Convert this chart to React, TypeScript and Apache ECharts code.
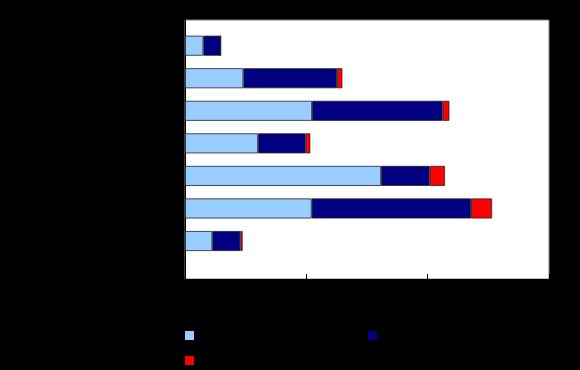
import React, { useEffect, useRef } from "react";
import * as echarts from "echarts";

const categories = ["Group 1", "Group 2", "Group 3", "Group 4", "Group 5", "Group 6", "Group 7"];
const seriesNames = ["Series 1", "Series 2", "Series 3"];
const lightValues = [1.51, 4.81, 10.47, 6.02, 16.16, 10.44, 2.25];
const darkValues = [1.43, 7.72, 10.77, 3.93, 4.01, 13.14, 2.31];
const redValues = [0, 0.44, 0.55, 0.38, 1.26, 1.73, 0.19];
const xTicks = [0, 10, 20, 30];

export default function App() {
  const ref = useRef<HTMLDivElement>(null);
  useEffect(() => {
    document.body.style.margin = "0";
    const chart = echarts.init(ref.current!, null, { renderer: "svg" });
    const font = "Liberation Sans";
    const barStyle = { borderColor: "#222", borderWidth: 0.8 };
    const legendBase = {
      itemWidth: 9, itemHeight: 9, icon: "rect", padding: 0,
      itemStyle: { borderWidth: 0 },
      textStyle: { color: "#000", fontFamily: font, fontSize: 11 },
    };
    chart.setOption({
      animation: false,
      backgroundColor: "#000",
      textStyle: { fontFamily: font, color: "#000" },
      grid: [
        { left: 185, top: 20, width: 364, height: 259, show: true, backgroundColor: "#fff", borderColor: "#808080", borderWidth: 1 },
        { left: 185, top: 29.4, width: 364, height: 227.9 },
      ],
      xAxis: [
        {
          gridIndex: 0, type: "value", min: xTicks[0], max: xTicks[xTicks.length - 1], interval: 10,
          axisLine: { show: true, lineStyle: { color: "#000", width: 1 } },
          axisTick: { show: true, inside: true, length: 5, lineStyle: { color: "#000" } },
          splitLine: { show: false },
          axisLabel: { color: "#000", fontSize: 11, fontFamily: font },
        },
        { gridIndex: 1, type: "value", min: 0, max: 30, show: false },
      ],
      yAxis: [
        { gridIndex: 0, type: "value", min: 0, max: 1, axisLine: { show: true, lineStyle: { color: "#000" } }, axisTick: { show: false }, axisLabel: { show: false }, splitLine: { show: false } },
        {
          gridIndex: 1, type: "category", data: categories, inverse: true,
          axisLine: { show: false }, axisTick: { show: false },
          axisLabel: { color: "#000", fontSize: 11, fontFamily: font },
        },
      ],
      legend: [
        { ...legendBase, data: [seriesNames[0]], left: 185, top: 330 },
        { ...legendBase, data: [seriesNames[1]], left: 368, top: 330 },
        { ...legendBase, data: [seriesNames[2]], left: 185, top: 355 },
      ],
      series: [
        { name: seriesNames[0], type: "bar", stack: "s", xAxisIndex: 1, yAxisIndex: 1, barWidth: 20, data: lightValues, itemStyle: { color: "#99CCFF", ...barStyle } },
        { name: seriesNames[1], type: "bar", stack: "s", xAxisIndex: 1, yAxisIndex: 1, barWidth: 20, data: darkValues, itemStyle: { color: "#000080", ...barStyle } },
        { name: seriesNames[2], type: "bar", stack: "s", xAxisIndex: 1, yAxisIndex: 1, barWidth: 20, data: redValues, itemStyle: { color: "#FF0000", ...barStyle } },
      ],
    });
    return () => chart.dispose();
  }, []);
  return <div ref={ref} style={{ width: 580, height: 370, background: "#000" }} />;
}
